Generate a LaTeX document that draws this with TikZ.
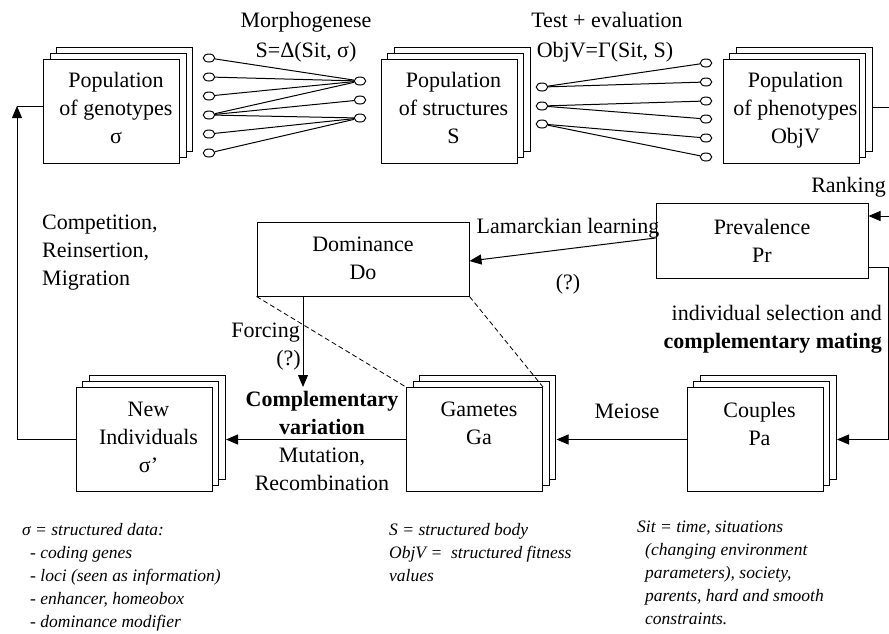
\documentclass[tikz,border=0pt]{standalone}
\usepackage{fontspec}
\setmainfont{Liberation Serif}
\usetikzlibrary{arrows.meta,shapes.geometric,shadows}
\tikzset{
  ln/.style={line width=1pt},
  stackbox/.style={draw, line width=1pt, fill=white, minimum width=136pt, minimum height=104pt, inner sep=0pt,
    double copy shadow={shadow xshift=6.5pt, shadow yshift=6pt}},
  plainbox/.style={draw, line width=1pt, fill=white, inner sep=0pt},
  port/.style={ellipse, draw, line width=1pt, fill=white, minimum width=11.5pt, minimum height=8pt, inner sep=0pt},
  txt/.style={font=\fontsize{22}{28}\selectfont, inner sep=0pt, align=center},
  note/.style={font=\fontsize{17.5}{23}\selectfont\itshape, inner sep=0pt, align=left, anchor=north west},
  arr/.style={line width=1pt, -{Triangle[length=12pt,width=10pt]}},
  dashline/.style={line width=0.8pt, dash pattern=on 5pt off 3pt}
}
\begin{document}
\begin{tikzpicture}[x=1pt,y=-1pt]
\useasboundingbox (0,0) rectangle (889,633);
% boxes
\node[stackbox] (geno) at (111.5,111) {};
\node[stackbox] (struct) at (449,111) {};
\node[stackbox] (pheno) at (791,111) {};
\node[stackbox] (newind) at (144,439.5) {};
\node[stackbox] (gam) at (474.5,439.5) {};
\node[stackbox] (coup) at (755,439.5) {};
\node[plainbox, minimum width=212pt, minimum height=74pt] (dom) at (363,259) {};
\node[plainbox, minimum width=212pt, minimum height=75pt] (prev) at (762,240.5) {};
% box texts
\node[txt, anchor=north] (genot) at (116,72) {Population\\of genotypes\\σ};
\node[txt, anchor=north] (structt) at (453.5,72) {Population\\of structures\\S};
\node[txt, anchor=north] (phenot) at (795.5,72) {Population\\of phenotypes\\ObjV};
\node[txt, anchor=north] (newindt) at (148.5,402) {New\\Individuals\\σ’};
\node[txt, anchor=north] (gamt) at (479,402) {Gametes\\Ga};
\node[txt, anchor=north] (coupt) at (759.5,402) {Couples\\Pa};
\node[txt, anchor=north] (domt) at (363,237) {Dominance\\Do};
\node[txt, anchor=north] (prevt) at (762,219) {Prevalence\\Pr};
% ports, morphogenese
\foreach \i/\y in {1/58,2/77,3/96,4/115,5/134,6/153} \node[port] (a\i) at (209,\y) {};
\foreach \i/\y in {1/81,2/100,3/118} \node[port] (b\i) at (360,\y) {};
\foreach \i/\y in {1/87,2/106,3/124} \node[port] (c\i) at (542,\y) {};
\foreach \i/\y in {1/63,2/82,3/101,4/119,5/138,6/157} \node[port] (d\i) at (706,\y) {};
\foreach \s/\t in {a1/b1,a2/b1,a3/b1,a4/b1,a4/b2,a4/b3,a5/b3,a6/b3,c1/d1,c1/d2,c2/d3,c2/d4,c3/d5,c3/d6}
  \draw[ln] (\s) -- (\t);
% labels
\node[txt, anchor=base] (morph) at (306,27) {Morphogenese};
\node[txt, anchor=base] (morphf) at (306,57) {S=Δ(Sit, σ)};
\node[txt, anchor=base] (test) at (607,27) {Test + evaluation};
\node[txt, anchor=base] (testf) at (605,57) {ObjV=Γ(Sit, S)};
\node[txt, anchor=base east] (rank) at (886,192) {Ranking};
\node[txt, anchor=base] (lam) at (568,233) {Lamarckian learning};
\node[txt] (lamq) at (568,284) {(?)};
\node[txt, anchor=north west, align=left] (comp) at (42,215) {Competition,\\Reinsertion,\\Migration};
\node[txt, anchor=base east] (forc) at (300,337) {Forcing};
\node[txt, anchor=base east] (forcq) at (301,365) {(?)};
\node[txt, anchor=north east, align=right] (sel) at (882,305) {individual selection and\\\textbf{complementary mating}};
\node[txt, anchor=north] (cvar) at (322,391) {\textbf{Complementary}\\\textbf{variation}\\Mutation,\\Recombination};
\node[txt, anchor=base] (mei) at (627,418) {Meiose};
% notes
\node[note] (n1) at (22,523) {σ = structured data:\\\hspace*{8pt}- coding genes\\\hspace*{8pt}- loci (seen as information)\\\hspace*{8pt}- enhancer, homeobox\\\hspace*{8pt}- dominance modifier};
\node[note] (n2) at (389,523) {S = structured body\\ObjV =\ \ structured fitness\\values};
\node[note] (n3) at (637,521) {Sit = time, situations\\\hspace*{8pt}(changing environment\\\hspace*{8pt}parameters), society,\\\hspace*{8pt}parents, hard and smooth\\\hspace*{8pt}constraints.};
% connectors
\coordinate (l1) at (17,106);
\draw[arr] (newind.west) -| (l1);
\draw[ln] (l1) -- (geno.west |- l1);
\draw[arr] (gam.west) -- ([xshift=13.5pt]newind.east);
\draw[arr] (coup.west) -- ([xshift=13.5pt]gam.east);
\coordinate (r1) at (888,267);
\coordinate (r2) at (888,439.5);
\draw[arr] ([yshift=-26.5pt]prev.east) -- (r1) -- (r2) -- ([xshift=13.5pt]coup.east);
\coordinate (t1) at (893,107);
\coordinate (t2) at (893,216);
\draw[arr] ([xshift=13pt,yshift=4pt]pheno.east) -- (t1) -- (t2) -- ([yshift=24.5pt]prev.east);
\draw[arr] ([yshift=2.5pt]prev.west) -- ([yshift=-2pt]dom.east);
\coordinate (f1) at (303,387);
\draw[arr] (dom.south -| f1) -- (f1);
\draw[dashline] (dom.south west) -- (gam.north west);
\draw[dashline] (dom.south east) -- (gam.north east);
\end{tikzpicture}
\end{document}
